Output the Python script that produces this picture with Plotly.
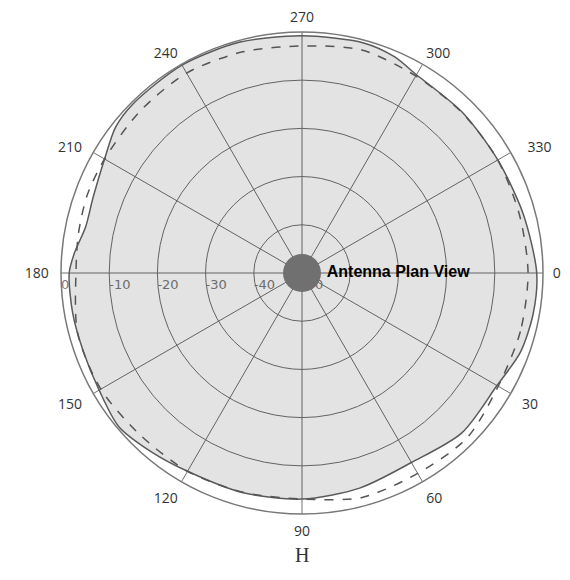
import plotly.graph_objects as go

# Measured pattern (solid, filled)
solid_theta = [0, 10, 20, 30, 45, 60, 75, 90, 105, 120, 130, 140, 150, 160, 170, 180,
               185, 192, 200, 210, 218, 225, 240, 255, 270, 285, 293, 300, 315, 330, 345, 360]
solid_r = [-1.3, -1.3, -1.8, -3.3, -3.1, -4.6, -3.8, -3.1, -2.8, -2.5, -1.5, -0.4, -1.4, -1.8, -1.7, -1.7,
           -2.6, -4.1, -3.9, -2.7, -0.9, -0.4, -0.2, -0.4, -0.8, -0.6, -1.2, -2.5, -2.9, -3.1, -2.5, -1.3]

# Reference pattern (dashed)
dash_theta = [0, 15, 30, 45, 60, 75, 90, 105, 120, 135, 150, 165, 180, 190, 200, 210,
              225, 240, 255, 270, 285, 300, 315, 330, 345, 360]
dash_r = [-3.1, -3.1, -3.0, -1.6, -2.0, -1.8, -3.1, -2.9, -2.5, -2.5, -1.8, -1.8, -3.1, -2.9, -2.6, -2.7,
          -2.5, -2.1, -2.5, -2.9, -2.1, -2.8, -3.0, -3.1, -3.3, -3.1]

angle_ticks = [0, 30, 60, 90, 120, 150, 180, 210, 240, 270, 300, 330]
angle_labels = ["0", "30", "60", "90", "120", "150", "180", "210", "240", "270", "300", "330"]
radial_ticks = [0, -10, -20, -30, -40, -50]
radial_labels = ["0", "-10", "-20", "-30", "-40", "-50"]
center_label = "Antenna Plan View"
title_text = "H"

# page body has an 8px margin; place the polar circle accordingly
CX, CY, R = 294, 265, 241
W, H = 570, 580

# small spacing nudges so the angular labels sit where the reference puts them
TS, FS = "\u2009", "\u2007"
nudge = {"0": TS + "{}", "30": TS + TS + "{}", "330": FS + TS + "{}",
         "150": "{}" + TS + TS, "180": "{}" + TS + TS, "210": "{}" + TS + TS}
angle_text = [nudge.get(t, "{}").format(t) for t in angle_labels]

fig = go.Figure()
fig.add_trace(go.Scatterpolar(
    r=solid_r, theta=solid_theta, mode="lines", fill="toself",
    fillcolor="rgba(0,0,0,0.11)",
    line=dict(color="#5a5a5a", width=1.5, shape="spline", smoothing=0.8),
    hoverinfo="skip", showlegend=False))
fig.add_trace(go.Scatterpolar(
    r=dash_r, theta=dash_theta, mode="lines",
    line=dict(color="#555555", width=1.5, dash="dash", shape="spline", smoothing=0.8),
    hoverinfo="skip", showlegend=False))
fig.add_trace(go.Scatterpolar(
    r=[-50], theta=[0], mode="markers+text", text=[center_label],
    textposition="middle right",
    textfont=dict(family="Liberation Sans, Arial", size=16, color="black", weight="bold"),
    marker=dict(size=38, color="#707070"),
    hoverinfo="skip", showlegend=False))

fig.update_layout(
    width=W, height=H,
    margin=dict(l=0, r=0, t=0, b=0),
    paper_bgcolor="white",
    showlegend=False,
    polar=dict(
        domain=dict(x=[(CX - R) / W, (CX + R) / W],
                    y=[(H - CY - R) / H, (H - CY + R) / H]),
        bgcolor="white",
        angularaxis=dict(
            direction="clockwise", rotation=0,
            tickmode="array", tickvals=angle_ticks, ticktext=angle_text,
            showline=True, linecolor="#787878", linewidth=1.5,
            gridcolor="#707070", gridwidth=1.4,
            ticks="outside", ticklen=4, tickcolor="rgba(0,0,0,0)",
            tickfont=dict(family="Open Sans, DejaVu Sans", size=14, color="#333333"),
        ),
        radialaxis=dict(
            range=[-50, 0], angle=180, side="counterclockwise", tickangle=180,
            tickmode="array", tickvals=radial_ticks, ticktext=radial_labels,
            showline=False, gridcolor="#707070", gridwidth=1.4,
            ticks="", tickfont=dict(family="DejaVu Sans", size=13, color="#7a7a7a"),
            layer="below traces",
        ),
    ),
    annotations=[dict(
        text=title_text, x=CX / W, y=(H - 547) / H, xref="paper", yref="paper",
        xanchor="center", yanchor="middle",
        showarrow=False, font=dict(family="Liberation Serif, Times New Roman", size=20, color="#333333"))],
)

fig.write_html("out.html")
